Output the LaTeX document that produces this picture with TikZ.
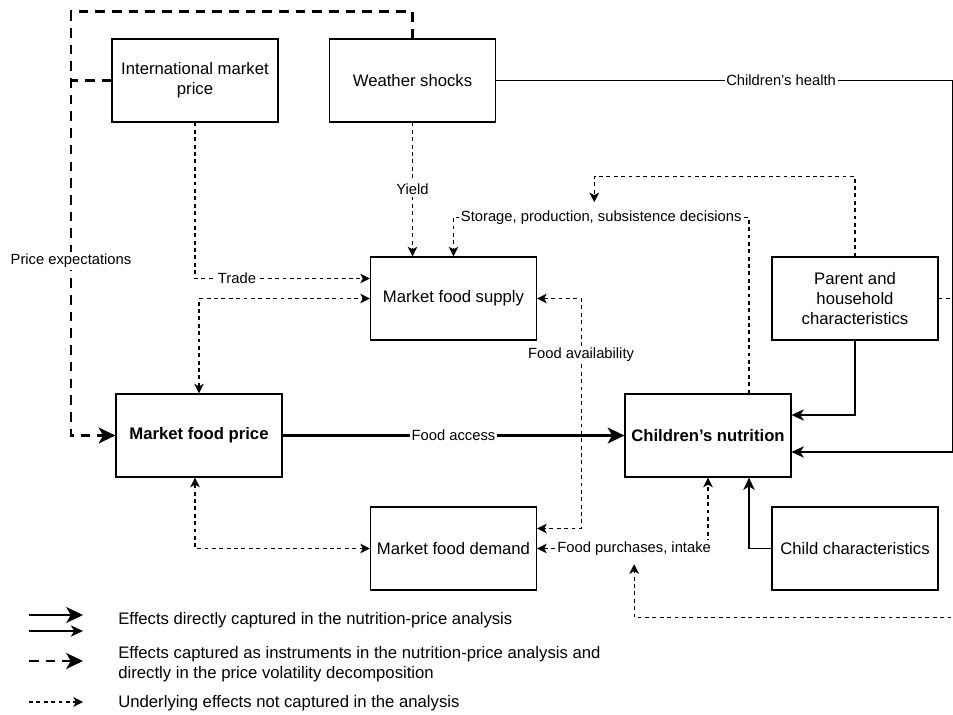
\documentclass[tikz,border=0pt]{standalone}
\usepackage{fontspec}
\setmainfont{Liberation Sans}
\usetikzlibrary{arrows.meta}

\tikzset{
  dtip/.tip={Stealth[length=5.5pt,width=5.5pt,inset=1.5pt]},
  stip/.tip={Stealth[length=7pt,width=6.5pt,inset=2pt]},
  btip/.tip={Stealth[length=9.5pt,width=9pt,inset=2.5pt]},
}

\begin{document}
\begin{tikzpicture}[x=0.02cm,y=-0.02cm,
  box/.style={draw,line width=0.7pt,minimum width=3.32cm,minimum height=1.66cm,inner sep=2pt,align=center,font=\fontsize{9.5}{11.3}\selectfont},
  boldbox/.style={box,font=\fontsize{9.5}{11.3}\selectfont\bfseries},
  lbl/.style={fill=white,inner sep=1pt,font=\fontsize{8.4}{10}\selectfont},
  leg/.style={anchor=west,align=left,inner sep=0pt,font=\fontsize{9.5}{11.3}\selectfont},
  capt/.style={line width=1.3pt},
  plainln/.style={line width=0.6pt},
  instr/.style={line width=1.7pt,dash pattern=on 5.5pt off 4pt},
  undl/.style={line width=0.6pt,dash pattern=on 2.2pt off 2pt}]
%\draw[step=50,gray,very thin] (0,0) grid (953,715);
\useasboundingbox (0,0) rectangle (953,715);
\clip (0,0) rectangle (953,715);

% boxes
\node[box] (intl) at (195,80.5) {International market\\price};
\node[box] (wthr) at (412.5,80.5) {Weather shocks};
\node[box] (supply) at (453.5,298.5) {Market food supply};
\node[boldbox] (price) at (199,435.5) {Market food price};
\node[boldbox] (nutr) at (708,435.5) {Children's nutrition};
\node[box] (demand) at (453.5,548.5) {Market food demand};
\node[box] (parent) at (855,298.5) {Parent and\\household\\characteristics};
\node[box] (child) at (855,548.5) {Child characteristics};

\coordinate (lft) at (71,12);

% instruments
\draw[instr,-btip] (wthr.north) |- (lft) |- node[lbl,pos=0.294] {Price expectations} (price.west);
\draw[instr] (intl.west) -- (intl.west -| lft);

% directly captured
\draw[capt,-btip] (price.east) -- node[lbl] {Food access} (nutr.west);
\draw[plainln,-stip] (wthr.east) -- node[lbl,pos=0.625] {Children's health} ++(456,0) |- ([yshift=-0.33cm]nutr.east);
\draw[plainln,-stip] (parent.south) |- ([yshift=0.41cm]nutr.east);
\draw[plainln,-stip] (child.west) -| ([xshift=0.82cm]nutr.south);

% underlying effects
\draw[undl,-dtip] (intl.south) |- node[lbl,pos=0.62] {Trade} ([yshift=0.4cm]supply.west);
\draw[undl,-dtip] (wthr.south) -- node[lbl] {Yield} (wthr.south |- supply.north);
\draw[undl,dtip-dtip] (price.north) |- (supply.west);
\draw[undl,dtip-dtip] ([xshift=-0.08cm]price.south) |- (demand.west);
\draw[undl,dtip-dtip] (supply.east) -- ++(44,0) |- node[lbl,pos=0.123] {Food availability} ([yshift=0.4cm]demand.east);
\draw[undl,dtip-dtip] (demand.east) -| node[lbl,pos=0.284] (fplbl) {Food purchases, intake} (nutr.south);
\draw[undl,-dtip] ([xshift=0.82cm]nutr.north) -- ++(0,-176) -| node[lbl,pos=0.25] (storlbl) {Storage, production, subsistence decisions} (supply.north);

\coordinate (stortip) at ([xshift=-0.14cm,yshift=0.12cm]storlbl.north);
\coordinate (fptip) at ([yshift=-0.13cm]fplbl.south);
\draw[undl,-dtip] (parent.north) -- ++(0,-80) -| (stortip);
\draw[undl,-dtip] (parent.east) -- ++(24,0) -- ++(0,319) -| (fptip);

% legend
\node[leg] (lg1) at (118,620) {Effects directly captured in the nutrition-price analysis};
\node[leg] (lg2) at (118,664) {Effects captured as instruments in the nutrition-price analysis and\\directly in the price volatility decomposition};
\node[leg] (lg3) at (118,703) {Underlying effects not captured in the analysis};
\draw[capt,-btip] (29,615) -- (83,615);
\draw[plainln,-stip] (29,631) -- (83,631);
\draw[instr,-btip] (29,661) -- (83,661);
\draw[undl,-dtip] (29,702) -- (83,702);

\end{tikzpicture}
\end{document}
